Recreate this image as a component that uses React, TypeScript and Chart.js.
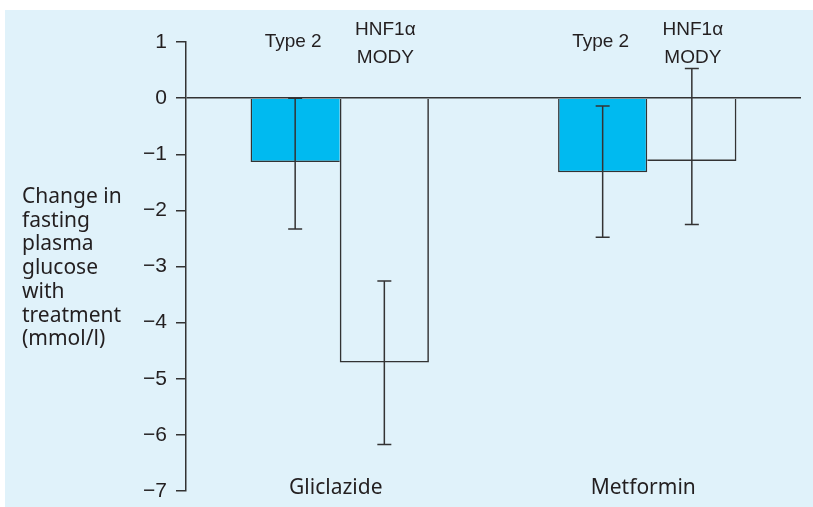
import React, { useEffect, useRef } from 'react';
import { Chart, registerables } from 'chart.js';

Chart.register(...registerables);

const categories = ['Gliclazide', 'Metformin'];
const seriesNames = ['Type 2', 'HNF1\u03b1 MODY'];
const type2Values = [-1.14, -1.32];
const modyValues = [-4.71, -1.12];
const type2ErrHigh = [0.0, -0.14];
const type2ErrLow = [-2.33, -2.48];
const modyErrHigh = [-3.26, 0.53];
const modyErrLow = [-6.17, -2.25];
const yMin = -7;
const yMax = 1;
const yTitleLines = ['Change in', 'fasting', 'plasma', 'glucose', 'with', 'treatment', '(mmol/l)'];
const seriesLabelLines = [['Type 2'], ['HNF1\u03b1', 'MODY']];

const INK = '#231f20';
const LINE = '#333333';
const PANEL = '#e0f2fa';
const CYAN = '#00baf0';
const BW = 1.5;

const errHigh = [type2ErrHigh, modyErrHigh];
const errLow = [type2ErrLow, modyErrLow];

const backgroundPlugin = {
  id: 'panelBg',
  beforeDraw(chart: any) {
    const { ctx, width, height } = chart;
    ctx.save();
    ctx.fillStyle = '#ffffff';
    ctx.fillRect(0, 0, width, height);
    ctx.fillStyle = PANEL;
    ctx.fillRect(5, 10, width - 5, height - 10);
    ctx.restore();
  },
};

const errorBarPlugin = {
  id: 'errorBars',
  afterDatasetsDraw(chart: any) {
    const { ctx } = chart;
    const y = chart.scales.y;
    ctx.save();
    ctx.strokeStyle = LINE;
    ctx.lineWidth = 1.5;
    chart.data.datasets.forEach((_ds: any, i: number) => {
      const meta = chart.getDatasetMeta(i);
      meta.data.forEach((bar: any, j: number) => {
        const x = bar.x;
        const yh = y.getPixelForValue(errHigh[i][j]);
        const yl = y.getPixelForValue(errLow[i][j]);
        const cap = 7;
        ctx.beginPath();
        ctx.moveTo(x, yh);
        ctx.lineTo(x, yl);
        ctx.moveTo(x - cap, yh);
        ctx.lineTo(x + cap, yh);
        ctx.moveTo(x - cap, yl);
        ctx.lineTo(x + cap, yl);
        ctx.stroke();
      });
    });
    ctx.restore();
  },
};

const textPlugin = {
  id: 'texts',
  afterDraw(chart: any) {
    const { ctx, chartArea } = chart;
    const xs = chart.scales.x;
    ctx.save();
    ctx.fillStyle = INK;
    // y axis title
    ctx.font = '21px "Noto Sans"';
    ctx.textAlign = 'left';
    ctx.textBaseline = 'alphabetic';
    yTitleLines.forEach((line, k) => {
      ctx.fillText(line, 22, 203 + k * 23.7);
    });
    // category labels
    ctx.textAlign = 'center';
    categories.forEach((c, j) => {
      ctx.fillText(c, xs.getPixelForValue(j) - 4, chartArea.bottom + 3);
    });
    // series labels above bars
    ctx.font = '19px "Liberation Sans"';
    chart.data.datasets.forEach((_ds: any, i: number) => {
      const meta = chart.getDatasetMeta(i);
      const lines = seriesLabelLines[i];
      meta.data.forEach((bar: any) => {
        if (lines.length === 1) {
          ctx.fillText(lines[0], bar.x - 2, chartArea.top + 5);
        } else {
          ctx.fillText(lines[0], bar.x + 1, chartArea.top - 7);
          ctx.fillText(lines[1], bar.x + 1, chartArea.top + 21);
        }
      });
    });
    ctx.restore();
  },
};

export default function App() {
  const ref = useRef<HTMLCanvasElement>(null);
  useEffect(() => {
    if (!ref.current) return;
    const chart = new Chart(ref.current, {
      type: 'bar',
      data: {
        labels: categories,
        datasets: [
          {
            label: seriesNames[0],
            data: type2Values,
            backgroundColor: CYAN,
            borderColor: LINE,
            borderSkipped: false,
            borderWidth: (c: any) => {
              const k = c.dataIndex;
              const deeperOther = modyValues[k] < type2Values[k];
              return { top: 0, bottom: BW, left: BW, right: deeperOther ? 0 : BW };
            },
          },
          {
            label: seriesNames[1],
            data: modyValues,
            backgroundColor: 'rgba(0,0,0,0)',
            borderColor: LINE,
            borderSkipped: false,
            borderWidth: (c: any) => {
              const k = c.dataIndex;
              const deeperSelf = modyValues[k] < type2Values[k];
              return { top: 0, bottom: BW, right: BW, left: deeperSelf ? BW : 0 };
            },
          },
        ],
      },
      options: {
        responsive: false,
        animation: false,
        layout: { padding: { top: 42, bottom: 16, right: 12, left: 0 } },
        plugins: {
          legend: { display: false },
          tooltip: { enabled: false },
          title: { display: false },
        },
        datasets: {
          bar: { categoryPercentage: 0.58, barPercentage: 1.0 },
        },
        scales: {
          x: {
            display: false,
          },
          y: {
            min: yMin,
            max: yMax,
            z: 1,
            afterFit(scale: any) {
              scale.width = 186;
              scale.paddingTop = 0;
              scale.paddingBottom = 0;
            },
            ticks: {
              stepSize: 1,
              color: INK,
              padding: 9,
              font: { family: '"Liberation Sans"', size: 21 },
              callback: (v: any) => (v < 0 ? '\u2212' + Math.abs(v) : String(v)),
            },
            grid: {
              drawOnChartArea: true,
              color: (c: any) => (c.tick && c.tick.value === 0 ? LINE : 'rgba(0,0,0,0)'),
              lineWidth: 1.5,
              tickColor: LINE,
              tickLength: 10,
              tickWidth: 1.5,
            },
            border: { display: true, color: LINE, width: 1.5 },
          },
        },
      },
      plugins: [backgroundPlugin, errorBarPlugin, textPlugin],
    } as any);
    return () => chart.destroy();
  }, []);
  return (
    <div style={{ position: 'fixed', left: 0, top: 0, width: 813, height: 507 }}>
      <canvas ref={ref} width={813} height={507} />
    </div>
  );
}
